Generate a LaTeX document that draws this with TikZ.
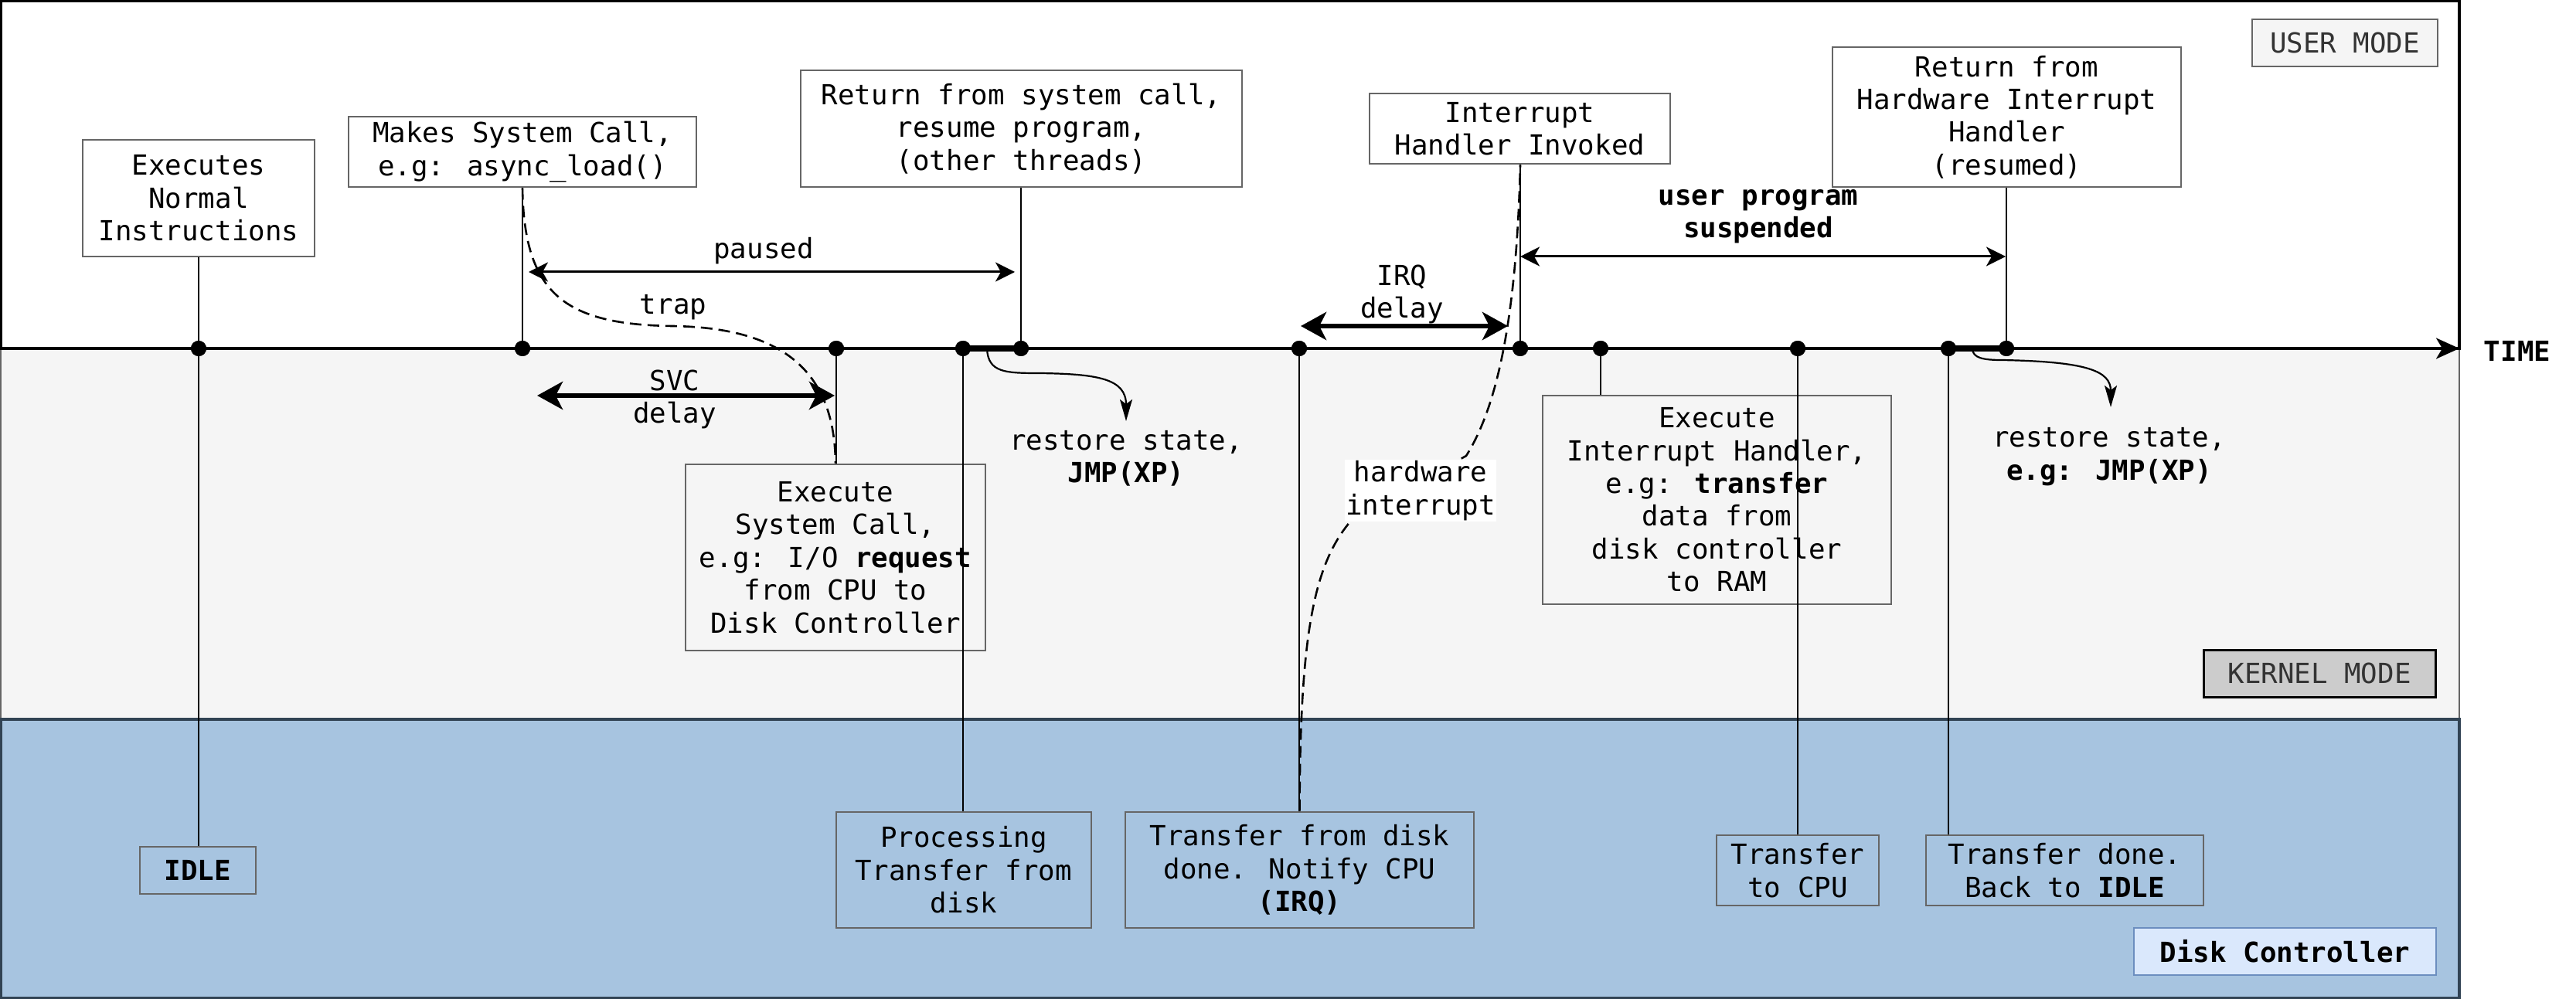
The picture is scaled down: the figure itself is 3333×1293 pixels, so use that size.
\documentclass[tikz,border=0pt]{standalone}
\usepackage{fontspec}
\setmainfont{DejaVu Sans Mono}
\usetikzlibrary{arrows.meta}
\definecolor{kfill}{HTML}{F5F5F5}
\definecolor{dfill}{HTML}{A7C4E0}
\definecolor{dstroke}{HTML}{314354}
\definecolor{bstroke}{HTML}{666666}
\definecolor{lblue}{HTML}{DAE8FC}
\definecolor{lbstroke}{HTML}{6C8EBF}
\definecolor{mtext}{HTML}{333333}
\definecolor{kmfill}{HTML}{CCCCCC}
\tikzset{
  txt/.style={font=\fontsize{17.9pt}{21.2pt}\selectfont, align=center, inner sep=0pt},
  box/.style={txt, draw=bstroke, line width=1.4pt, rectangle},
  ubox/.style={box, fill=white},
  kbox/.style={box, fill=kfill},
  dbox/.style={box, fill=dfill},
  dotnode/.style={circle, fill=black, inner sep=0pt, minimum size=10pt},
  conn/.style={line width=1.1pt},
  thickseg/.style={line width=3.6pt},
  tline/.style={line width=1.7pt, -{Stealth[length=15pt,width=13.5pt,inset=4pt]}},
  thinarr/.style={line width=1.5pt, {Stealth[length=12.5pt,width=12.5pt,inset=3.5pt]}-{Stealth[length=12.5pt,width=12.5pt,inset=3.5pt]}},
  thickarr/.style={line width=3pt, {Stealth[length=16.5pt,width=18pt,inset=4.5pt]}-{Stealth[length=16.5pt,width=18pt,inset=4.5pt]}},
  curvarr/.style={line width=1.1pt, -{Stealth[length=14pt,width=8pt,inset=3pt]}},
  dashcurve/.style={line width=1.3pt, dash pattern=on 7.5pt off 4pt},
}
\begin{document}
\begin{tikzpicture}[x=0.5pt,y=-0.5pt]
\useasboundingbox (0,0) rectangle (3333,1293);
\fill[white] (0,0) rectangle (3333,1293);
% lanes
\draw[fill=kfill, draw=bstroke, line width=1.2pt] (1,451) rectangle (3182,931);
\draw[fill=dfill, draw=dstroke, line width=1.6pt] (1.6,931) rectangle (3182,1291.4);
\draw[fill=white, draw=black, line width=1.6pt] (1.6,1.6) rectangle (3182,451);
% timeline
\coordinate (tl0) at (0,451);
\coordinate (tl1) at (3182,451);
\draw[tline] (tl0) -- (tl1);
\node[txt] (time) at (3257,454) {\textbf{TIME}};
% dots
\node[dotnode] (d1) at (257,451) {};
\node[dotnode] (d2) at (676,451) {};
\node[dotnode] (d3) at (1082,451) {};
\node[dotnode] (d4) at (1246,451) {};
\node[dotnode] (d5) at (1321,451) {};
\node[dotnode] (d6) at (1681,451) {};
\node[dotnode] (d7) at (1967,451) {};
\node[dotnode] (d8) at (2071,451) {};
\node[dotnode] (d9) at (2326,451) {};
\node[dotnode] (d10) at (2521,451) {};
\node[dotnode] (d11) at (2596,451) {};
% user boxes
\node[ubox, minimum width=150pt, minimum height=75.5pt] (exec) at (257,256.5) {Executes\\Normal\\Instructions};
\node[ubox, minimum width=225pt, minimum height=45.5pt] (makes) at (676,196.5) {Makes System Call,\\e.g: async\_load()};
\node[ubox, minimum width=285.5pt, minimum height=75.5pt] (ret) at (1321.5,166.5) {Return from system call,\\resume program,\\(other threads)};
\node[ubox, minimum width=194.5pt, minimum height=45.5pt] (irqinv) at (1966.5,166.5) {Interrupt\\Handler Invoked};
\node[ubox, minimum width=225.5pt, minimum height=90.5pt] (rethw) at (2596.5,151.5) {Return from\\Hardware Interrupt\\Handler\\(resumed)};
\node[box, fill=kfill, text=mtext, minimum width=120pt, minimum height=30.5pt] (usermode) at (3034,55.5) {USER MODE};
% kernel boxes
\node[kbox, minimum width=194pt, minimum height=120.5pt] (execsys) at (1081,721.5) {Execute\\System Call,\\e.g: I/O \textbf{request}\\from CPU to\\Disk Controller};
\node[kbox, minimum width=225.5pt, minimum height=135pt] (execint) at (2221.5,647) {Execute\\Interrupt Handler,\\e.g: \textbf{transfer}\\data from\\disk controller\\to RAM};
\node[box, draw=black, fill=kmfill, text=mtext, line width=1.5pt, minimum width=150pt, minimum height=30.5pt] (kernelmode) at (3001,871.5) {KERNEL MODE};
% disk boxes
\node[dbox, minimum width=75pt, minimum height=30.5pt] (idle) at (256,1126.5) {\textbf{IDLE}};
\node[dbox, minimum width=165pt, minimum height=75pt] (proc) at (1247,1126) {Processing\\Transfer from\\disk};
\node[dbox, minimum width=225.5pt, minimum height=75pt] (tdone) at (1681.5,1126) {Transfer from disk\\done. Notify CPU\\\textbf{(IRQ)}};
\node[dbox, minimum width=105pt, minimum height=45.5pt] (tcpu) at (2326,1126.5) {Transfer\\to CPU};
\node[dbox, minimum width=179.5pt, minimum height=45.5pt] (tback) at (2671.5,1126.5) {Transfer done.\\Back to \textbf{IDLE}};
\node[box, draw=lbstroke, fill=lblue, minimum width=195.5pt, minimum height=30.5pt] (diskctl) at (2956.5,1231.5) {\textbf{Disk Controller}};
% vertical connectors
\draw[conn] (exec.south) -- (exec.south |- idle.north);
\draw[conn] (makes.south) -- (d2.center);
\draw[conn] (d3.center) -- (d3 |- execsys.north);
\draw[conn] (d4.center) -- (d4 |- proc.north);
\draw[conn] (d5 |- ret.south) -- (d5.center);
\draw[conn] (d6.center) -- (d6 |- tdone.north);
\draw[conn] (d7 |- irqinv.south) -- (d7.center);
\draw[conn] (d8.center) -- (d8 |- execint.north);
\draw[conn] (d9.center) -- (d9 |- tcpu.north);
\draw[conn] (d10.center) -- (d10 |- tback.north);
\draw[conn] (d11 |- rethw.south) -- (d11.center);
\draw[thickseg] (d4.center) -- (d5.center);
\draw[thickseg] (d10.center) -- (d11.center);
% redraw dots on top
\foreach \d in {d1,d2,d3,d4,d5,d6,d7,d8,d9,d10,d11} {\fill (\d) circle (10);}
% span arrows
\coordinate (pa) at (684,352);
\coordinate (pb) at (1313,352);
\draw[thinarr] (pa) -- (pb);
\node[txt] (lpaused) at (988,325) {paused};
\coordinate (sa) at (695,512);
\coordinate (sb) at (1080,512);
\draw[thickarr] (sa) -- (sb);
\node[txt] (lsvc) at (873,517) {SVC\\delay};
\coordinate (ia) at (1683,422);
\coordinate (ib) at (1951,422);
\draw[thickarr] (ia) -- (ib);
\node[txt] (lirq) at (1814,381) {IRQ\\delay};
\coordinate (ua) at (1967,332);
\coordinate (ub) at (2595,332);
\draw[thinarr] (ua) -- (ub);
\node[txt] (lsusp) at (2275,280) {\textbf{user program}\\\textbf{suspended}};
% trap
\draw[dashcurve] (makes.south) .. controls (678,380) and (730,420) .. (870,422) .. controls (1000,424) and (1080,470) .. (execsys.north);
\node[txt] (ltrap) at (871,398) {trap};
% restore arrows
\node[txt] (rs1) at (1457,593) {restore state,\\\textbf{JMP(XP)}};
\node[txt] (rs2) at (2729,591) {restore state,\\\textbf{e.g: JMP(XP)}};
\coordinate (r1s) at (1277,452);
\coordinate (r2s) at (2552,452);
\coordinate (r1e) at (1457,545);
\coordinate (r2e) at (2731,527);
\draw[curvarr] (r1s) .. controls (1279,482) and (1300,483) .. (1345,483) .. controls (1420,484) and (1457,490) .. (r1e);
\draw[curvarr] (r2s) .. controls (2553,463) and (2565,466) .. (2590,466) .. controls (2700,468) and (2731,480) .. (r2e);
% hardware interrupt
\draw[dashcurve] (tdone.north) .. controls (1682,820) and (1700,730) .. (1748,674) -- (1897,590) .. controls (1935,530) and (1962,420) .. (d7 |- irqinv.south);
\node[txt, fill=white, inner sep=0.5pt] (lhw) at (1838,635) {hardware\\interrupt};
\end{tikzpicture}
\end{document}
